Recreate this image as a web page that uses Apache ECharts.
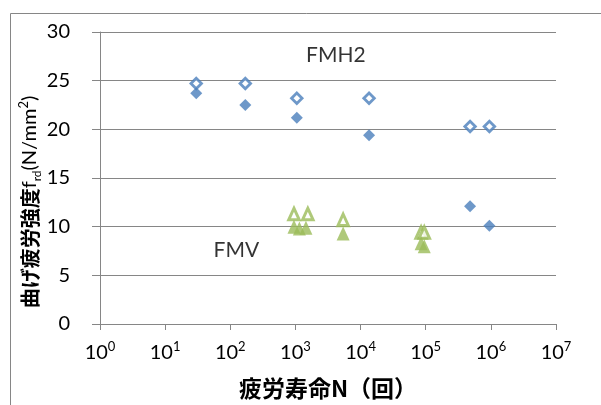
<!DOCTYPE html>
<html>
<head>
<meta charset="utf-8">
<script src="https://cdn.jsdelivr.net/npm/echarts@6/dist/echarts.min.js"></script>
<style>
html,body{margin:0;padding:0;background:#fff;}
#chart{width:601px;height:405px;}
</style>
</head>
<body>
<div id="chart"></div>
<script>
// ---- data (N cycles, strength N/mm2) ----
const fmh2Open   = [[30,24.7],[170,24.7],[1050,23.2],[13500,23.2],[480000,20.3],[950000,20.3]];
const fmh2Filled = [[30,23.7],[170,22.5],[1050,21.2],[13500,19.4],[480000,12.1],[950000,10.1]];
const fmvOpen    = [[950,11.3],[1550,11.3],[5400,10.7],[85000,9.4],[95000,9.4]];
const fmvFilled  = [[950,10.0],[1150,9.8],[1450,9.9],[5400,9.3],[85000,8.3],[95000,8.0]];
const seriesLabels = [{name:'FMH2', value:[4170,27.6]}, {name:'FMV', value:[124,7.6]}];
const yTicks = [0,5,10,15,20,25,30];
const xTickExponents = [0,1,2,3,4,5,6,7];

const blue = '#4a7ebb';
const green = '#9bbb59';
const gray = '#868686';
const latin = 'Lato, "Noto Sans", sans-serif';
const cjk = '"Noto Sans CJK JP", sans-serif';

const chart = echarts.init(document.getElementById('chart'), null, {renderer:'canvas'});
chart.setOption({
  animation: false,
  backgroundColor: '#fff',
  graphic: [{
    type: 'rect', left: 8, top: 11, shape: {width: 640, height: 440},
    style: {fill: 'none', stroke: gray, lineWidth: 1}, silent: true
  }],
  grid: {left: 100, right: 45, top: 32, bottom: 80, containLabel: false},
  xAxis: {
    type: 'log', logBase: 10,
    min: Math.pow(10, xTickExponents[0]),
    max: Math.pow(10, xTickExponents[xTickExponents.length - 1]),
    axisLine: {show: true, lineStyle: {color: gray, width: 1}},
    axisTick: {show: true, inside: false, length: 6, lineStyle: {color: gray}},
    splitLine: {show: false},
    minorTick: {show: false},
    axisLabel: {
      margin: 16,
      formatter: function (v) {
        const e = Math.round(Math.log10(v));
        return '{b|10}{s|' + e + '}';
      },
      rich: {
        b: {fontFamily: latin, fontSize: 20, color: '#000', lineHeight: 26},
        s: {fontFamily: latin, fontSize: 13, color: '#000', lineHeight: 14, verticalAlign: 'top'}
      }
    },
    name: '疲労寿命N（回）',
    nameLocation: 'middle',
    nameGap: 53,
    nameMoveOverlap: false,
    nameTextStyle: {fontFamily: cjk, fontWeight: 'bold', fontSize: 23, color: '#000'}
  },
  yAxis: {
    type: 'value', min: yTicks[0], max: yTicks[yTicks.length - 1], interval: 5,
    axisLine: {show: true, lineStyle: {color: gray, width: 1}},
    axisTick: {show: true, inside: false, length: 8, lineStyle: {color: gray}},
    splitLine: {show: true, lineStyle: {color: gray, width: 1}},
    axisLabel: {margin: 30, fontFamily: latin, fontSize: 20, color: '#000'},
    name: '{c|曲げ疲労強度}{n|f}{sub|rd}{n|(N/mm}{sup|2}{n|)}',
    nameLocation: 'middle',
    nameRotate: 90,
    nameGap: 57,
    nameMoveOverlap: false,
    nameTextStyle: {
      padding: [0, 48, 0, 0],
      rich: {
        c: {fontFamily: cjk, fontWeight: 'bold', fontSize: 20, color: '#000', lineHeight: 26},
        n: {fontFamily: latin, fontSize: 20, color: '#000', lineHeight: 26},
        sub: {fontFamily: latin, fontSize: 12, color: '#000', lineHeight: 13, verticalAlign: 'bottom'},
        sup: {fontFamily: latin, fontSize: 13, color: '#000', lineHeight: 13, verticalAlign: 'top'}
      }
    }
  },
  series: [
    {
      type: 'scatter', name: 'FMH2 open', data: fmh2Open,
      symbol: 'diamond', symbolSize: 10.5,
      itemStyle: {color: '#fff', borderColor: blue, borderWidth: 2.8}
    },
    {
      type: 'scatter', name: 'FMH2 filled', data: fmh2Filled,
      symbol: 'diamond', symbolSize: 12,
      itemStyle: {color: blue}
    },
    {
      type: 'scatter', name: 'FMV open', data: fmvOpen,
      symbol: 'triangle', symbolSize: [10.5, 11.5],
      itemStyle: {color: '#fff', borderColor: green, borderWidth: 3}
    },
    {
      type: 'scatter', name: 'FMV filled', data: fmvFilled,
      symbol: 'triangle', symbolSize: [13, 14],
      itemStyle: {color: green}
    },
    {
      type: 'scatter', name: 'labels', data: seriesLabels,
      symbolSize: 0, silent: true,
      label: {
        show: true, position: 'inside', formatter: '{b}',
        fontFamily: latin, fontSize: 21, color: '#000'
      }
    }
  ]
});
</script>
</body>
</html>
